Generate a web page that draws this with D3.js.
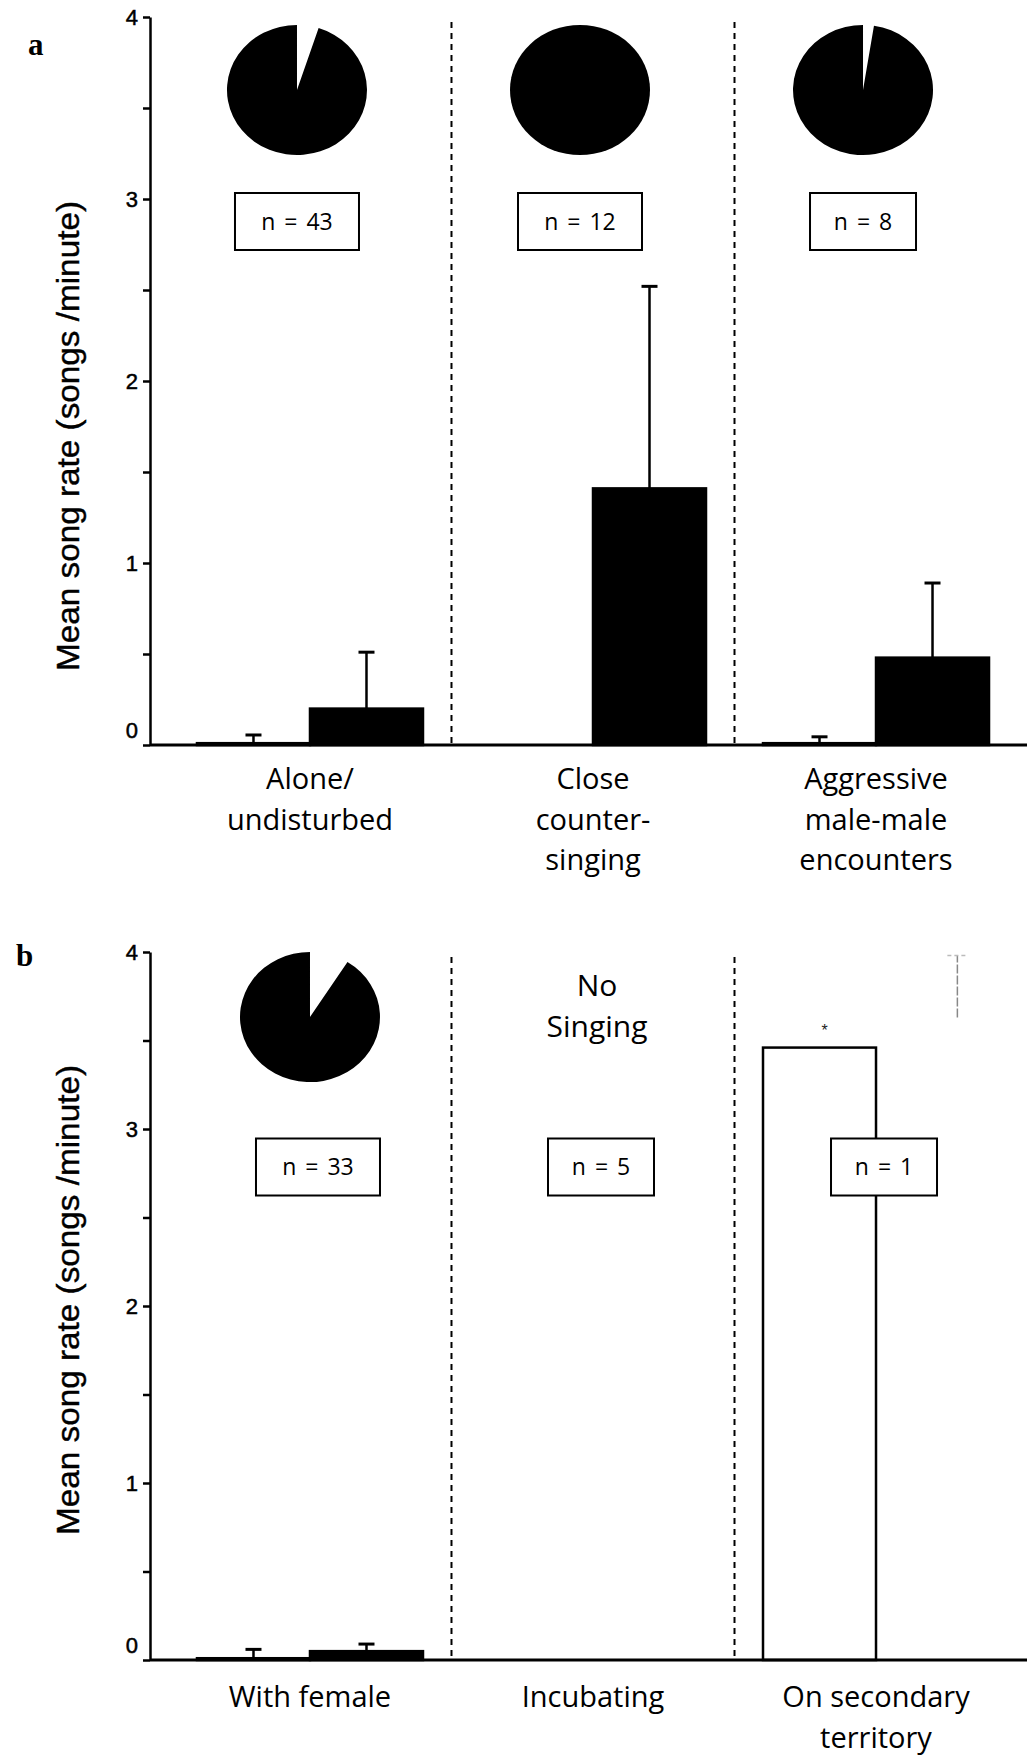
<!DOCTYPE html>
<html>
<head>
<meta charset="utf-8">
<script src="https://cdn.jsdelivr.net/npm/d3@7"></script>
<style>
  body { margin: 0; background: #fff; }
  svg { display: block; }
</style>
</head>
<body>
<svg id="chart" width="1027" height="1758"></svg>
<script>
// ---- data ----
const categoriesA = [["Alone/", "undisturbed"], ["Close", "counter-", "singing"], ["Aggressive", "male-male", "encounters"]];
const categoriesB = [["With female"], ["Incubating"], ["On secondary", "territory"]];

// mean song rate (songs/minute): first (open) and second (filled) bar of each condition
const meanA1 = [0.01, 0, 0.01];
const meanA2 = [0.20, 1.41, 0.48];
const seA1   = [0.045, 0, 0.035];
const seA2   = [0.31, 1.11, 0.41];

const meanB1 = [0.01, 0, 3.46];
const meanB2 = [0.05, 0, 0];
const seB1   = [0.05, 0, 0];
const seB2   = [0.04, 0, 0];

// sample sizes per condition
const sampleA = [43, 12, 8];
const sampleB = [33, 5, 1];

// share of the open (white) wedge in each pie; null = no pie
const pieShareA = [0.05, 0, 0.025];
const pieShareB = [0.09, null, null];

const notesB = [null, ["No", "Singing"], null];
const markB = [null, null, "*"];
// faint printed whisker beside the open bar of the last condition in b
const faintWhiskerB = [null, null, [3.63, 3.98]];

const yTickValues = [0, 0.5, 1, 1.5, 2, 2.5, 3, 3.5, 4];
const yTickLabels = ["0", "1", "2", "3", "4"];
const yTitle = "Mean song rate (songs /minute)";

// ---- layout ----
const W = 1027;
const axisX = 150;
const svg = d3.select("#chart");
svg.append("rect").attr("width", W).attr("height", 1758).attr("fill", "#fff");

const x = d3.scaleBand().domain([0, 1, 2]).range([axisX, 1036])
  .paddingInner(0.2014).paddingOuter(0.166);
const xi = d3.scaleBand().domain([0, 1]).range([0, x.bandwidth()]).padding(0);

const panels = [
  {
    label: "a", labelX: 28, labelY: 55,
    top: 17, bottom: 745,
    cats: categoriesA, m1: meanA1, m2: meanA2, e1: seA1, e2: seA2,
    n: sampleA, pie: pieShareA, notes: [null, null, null], marks: [null, null, null],
    faint: [null, null, null],
    pieDx: -13, pieCy: 90, boxDx: -13, boxCy: 221.5,
    titleY: 436, catBase: 789
  },
  {
    label: "b", labelX: 16, labelY: 966,
    top: 952, bottom: 1660,
    cats: categoriesB, m1: meanB1, m2: meanB2, e1: seB1, e2: seB2,
    n: sampleB, pie: pieShareB, notes: notesB, marks: markB,
    faint: faintWhiskerB,
    pieDx: 0, pieCy: 1017, boxDx: 8, boxCy: 1167,
    titleY: 1300, catBase: 1707
  }
];

const catFont = "'Open Sans', 'Noto Sans', sans-serif";

panels.forEach(p => {
  const g = svg.append("g");
  const y = d3.scaleLinear().domain([0, 4]).range([p.bottom, p.top]);

  // panel letter
  g.append("text").attr("x", p.labelX).attr("y", p.labelY)
    .attr("font-family", "'Liberation Serif', serif").attr("font-weight", "bold")
    .attr("font-size", 31).text(p.label);

  // dashed separators between conditions
  [0, 1].forEach(i => {
    const sx = x(i) + x.bandwidth() + (x.step() - x.bandwidth()) / 2;
    g.append("line").attr("x1", sx).attr("x2", sx)
      .attr("y1", y(4) + 5).attr("y2", y(0))
      .attr("stroke", "#000").attr("stroke-width", 2).attr("stroke-dasharray", "6,5");
  });

  // bars
  const bars = [];
  [0, 1, 2].forEach(i => {
    bars.push({ g: i, s: 0, v: p.m1[i], e: p.e1[i] });
    bars.push({ g: i, s: 1, v: p.m2[i], e: p.e2[i] });
  });
  const drawn = bars.filter(d => d.v > 0);
  g.selectAll("rect.bar").data(drawn).join("rect").attr("class", "bar")
    .attr("x", d => x(d.g) + xi(d.s))
    .attr("width", xi.bandwidth())
    .attr("y", d => y(d.v))
    .attr("height", d => y(0) - y(d.v))
    .attr("fill", d => d.s === 0 ? "#fff" : "#000")
    .attr("stroke", "#000").attr("stroke-width", 2.5);

  // error bars (upper whisker)
  const eb = drawn.filter(d => d.e > 0);
  const ebG = g.selectAll("g.err").data(eb).join("g").attr("class", "err");
  ebG.append("line")
    .attr("x1", d => x(d.g) + xi(d.s) + xi.bandwidth() / 2)
    .attr("x2", d => x(d.g) + xi(d.s) + xi.bandwidth() / 2)
    .attr("y1", d => y(d.v)).attr("y2", d => y(d.v + d.e))
    .attr("stroke", "#000").attr("stroke-width", 2.5);
  ebG.append("line")
    .attr("x1", d => x(d.g) + xi(d.s) + xi.bandwidth() / 2 - 8)
    .attr("x2", d => x(d.g) + xi(d.s) + xi.bandwidth() / 2 + 8)
    .attr("y1", d => y(d.v + d.e)).attr("y2", d => y(d.v + d.e))
    .attr("stroke", "#000").attr("stroke-width", 3);

  // asterisk marks above open bars
  p.marks.forEach((mk, i) => {
    if (!mk) return;
    g.append("text").attr("x", x(i) + xi(0) + xi.bandwidth() / 2 + 5)
      .attr("y", y(p.m1[i]) - 12)
      .attr("text-anchor", "middle").attr("font-family", "'Liberation Sans', sans-serif")
      .attr("font-size", 16).attr("fill", "#222").text(mk);
  });

  // faint printed whisker
  p.faint.forEach((fw, i) => {
    if (!fw) return;
    const fx = x(i) + xi(1) + xi.bandwidth() * 0.72;
    g.append("line").attr("x1", fx).attr("x2", fx)
      .attr("y1", y(fw[0])).attr("y2", y(fw[1]))
      .attr("stroke", "#888").attr("stroke-width", 1.5).attr("stroke-dasharray", "9,2");
    g.append("line").attr("x1", fx - 10).attr("x2", fx + 10)
      .attr("y1", y(fw[1])).attr("y2", y(fw[1]))
      .attr("stroke", "#bbb").attr("stroke-width", 1.5).attr("stroke-dasharray", "4,3");
  });

  // baseline
  g.append("line").attr("x1", axisX).attr("x2", W)
    .attr("y1", y(0)).attr("y2", y(0))
    .attr("stroke", "#000").attr("stroke-width", 3);

  // pies
  const pie = d3.pie().sort(null).value(d => d);
  const arc = d3.arc().innerRadius(0).outerRadius(70);
  p.pie.forEach((share, i) => {
    if (share === null) return;
    const cx = x(i) + x.bandwidth() / 2 + p.pieDx;
    const pg = g.append("g").attr("transform", `translate(${cx},${p.pieCy}) scale(1,0.93)`);
    const slices = pie([share, 1 - share]);
    pg.selectAll("path").data(slices).join("path")
      .attr("d", arc)
      .attr("fill", (d, k) => k === 0 ? "#fff" : "#000");
  });

  // sample-size boxes
  p.n.forEach((n, i) => {
    const cx = x(i) + x.bandwidth() / 2 + p.boxDx;
    const digits = String(n).length;
    const bw = 88 + 18 * digits;
    g.append("rect").attr("x", cx - bw / 2).attr("y", p.boxCy - 28.5)
      .attr("width", bw).attr("height", 57)
      .attr("fill", "#fff").attr("stroke", "#000").attr("stroke-width", 2);
    g.append("text").attr("x", cx).attr("y", p.boxCy + 8)
      .attr("text-anchor", "middle").attr("font-family", catFont)
      .attr("font-size", 23).attr("word-spacing", 3)
      .text(`n = ${n}`);
  });

  // notes
  p.notes.forEach((note, i) => {
    if (!note) return;
    const t = g.append("text").attr("text-anchor", "middle")
      .attr("font-family", catFont).attr("font-size", 30);
    note.forEach((line, k) => {
      t.append("tspan").attr("x", x(i) + x.bandwidth() / 2 + 4)
        .attr("y", p.top + 44 + k * 41).text(line);
    });
  });

  // category labels
  p.cats.forEach((lines, i) => {
    const t = g.append("text").attr("text-anchor", "middle")
      .attr("font-family", catFont).attr("font-size", 29);
    lines.forEach((line, k) => {
      t.append("tspan").attr("x", x(i) + x.bandwidth() / 2)
        .attr("y", p.catBase + k * 40.5).text(line);
    });
  });

  // y axis
  const axis = d3.axisLeft(y).tickValues(yTickValues)
    .tickSize(7).tickSizeOuter(0).tickPadding(5)
    .tickFormat(v => Number.isInteger(v) ? yTickLabels[v] : "");
  const ag = g.append("g").attr("transform", `translate(${axisX},0)`).call(axis);
  ag.attr("font-size", 22);
  ag.select(".domain").attr("stroke", "#000").attr("stroke-width", 2.5);
  ag.selectAll(".tick line").attr("stroke", "#000").attr("stroke-width", 2.5);
  ag.selectAll(".tick text")
    .attr("font-family", "'Liberation Sans', Arial, sans-serif")
    .attr("font-size", 22).attr("fill", "#000")
    .attr("stroke", "#000").attr("stroke-width", 0.5)
    .attr("dy", v => v === 0 ? "-0.35em" : "0.32em");

  // y axis title
  g.append("text")
    .attr("transform", `translate(79,${p.titleY}) rotate(-90)`)
    .attr("text-anchor", "middle")
    .attr("font-family", "'Liberation Sans', Arial, sans-serif")
    .attr("font-size", 32)
    .attr("stroke", "#000").attr("stroke-width", 0.4)
    .attr("textLength", 470).attr("lengthAdjust", "spacingAndGlyphs")
    .text(yTitle);
});
</script>
</body>
</html>
